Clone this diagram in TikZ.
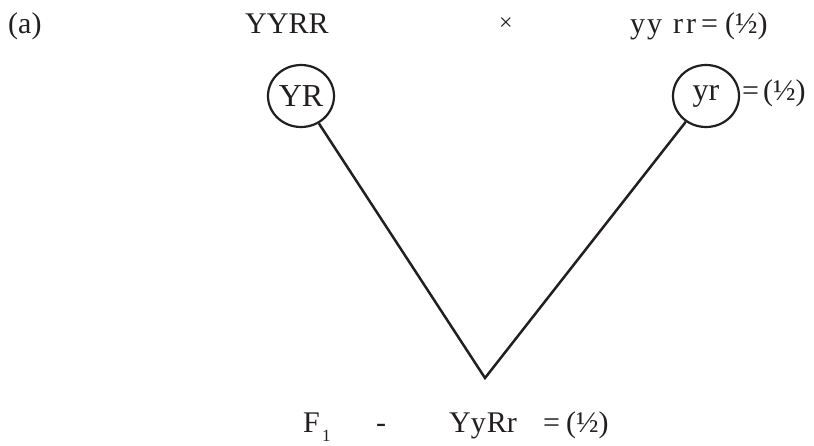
\documentclass[tikz,border=0pt]{standalone}
\usepackage{fontspec}
\setmainfont{Liberation Serif}
\usetikzlibrary{shapes.geometric}
\definecolor{ink}{HTML}{231F20}
\begin{document}
\begin{tikzpicture}[x=1pt,y=-1pt,
  txt/.style={inner sep=0pt,anchor=base west,font=\fontsize{30}{34}\selectfont,text=ink},
  gam/.style={draw=ink,line width=2.2pt,ellipse,minimum width=66pt,minimum height=62pt,inner sep=0pt,font=\fontsize{32}{36}\selectfont,text=ink},
  link/.style={draw=ink,line width=2.5pt}]
\useasboundingbox (0,0) rectangle (814,445);
\node[txt] (a) at (8,33) {(a)};
\node[txt] (p1) at (245,33) {YYRR};
\node[txt,anchor=center,font=\fontsize{24}{26}\selectfont] (x) at (506,24) {×};
\node[txt] (p2) at (630,33) {y\hspace{2pt}y\hspace{11pt}r\hspace{3pt}r\hspace{5pt}=\hspace{7pt}(½)};
\node[gam] (g1) at (301,96) {YR};
\node[gam] (g2) at (706,96) {yr};
\node[txt] (h2) at (742,100) {=\hspace{4pt}(½)};
\coordinate (apex) at (485,378);
\draw[link] (g1) -- (apex) -- (g2);
\node[txt] (f) at (303,432) {F};
\node[txt,font=\fontsize{17}{19}\selectfont] (f1) at (322,441) {1};
\node[txt] (dash) at (376,432) {-};
\node[txt] (o) at (449,432) {Yy\hspace{1pt}Rr};
\node[txt] (h3) at (543,432) {=\hspace{6pt}(½)};
\end{tikzpicture}
\end{document}
